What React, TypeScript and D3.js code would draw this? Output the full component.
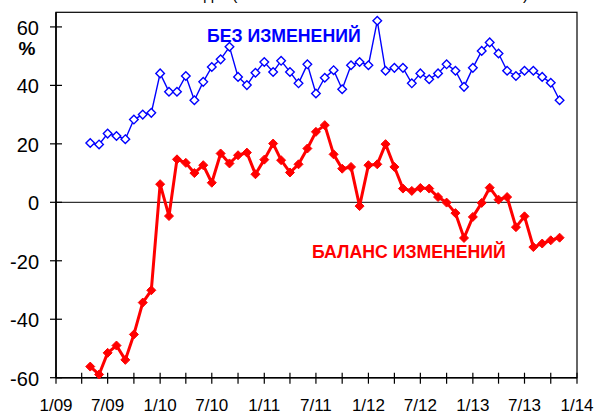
import React from 'react';
import * as d3 from 'd3';

// Monthly survey, May 2009 .. Nov 2013
const months: Date[] = d3.timeMonth.range(new Date(2009, 4, 1), new Date(2013, 11, 1));

const noChange: number[] = [
  20.3, 19.8, 23.5, 22.7, 21.6, 28.3, 30.0, 30.6, 44.1, 37.8, 37.8,
  43.2, 34.9, 41.2, 46.3, 48.9, 53.2, 42.9, 40.1, 44.3, 48.0, 44.6,
  48.4, 44.6, 40.7, 47.2, 37.2, 42.6, 45.2, 38.7, 46.9, 48.0, 46.9,
  62.1, 45.0, 46.0, 46.0, 40.7, 44.1, 42.1, 44.1, 47.2, 45.0, 39.5,
  46.0, 51.8, 54.7, 50.9, 45.0, 43.2, 45.0, 45.0, 42.9, 40.9, 34.9,
];

const balance: number[] = [
  -56.2, -58.9, -51.5, -49.0, -53.9, -45.2, -34.3, -30.1, 6.2, -4.7, 14.7,
  13.5, 10.0, 12.7, 6.7, 16.7, 13.3, 16.1, 17.0, 9.6, 14.6, 20.1,
  14.4, 10.2, 13.0, 18.4, 24.1, 26.4, 16.4, 11.5, 12.1, -1.3, 12.7,
  13.0, 19.9, 12.1, 4.7, 3.9, 4.9, 4.7, 1.8, -0.1, -3.7, -12.2,
  -5.0, -0.2, 5.0, 0.9, 1.8, -8.5, -4.8, -15.3, -14.1, -13.0, -12.1,
];

const yTicks: number[] = [-60, -40, -20, 0, 20, 40, 60];
const xDomain: Date[] = [new Date(2009, 0, 1), new Date(2014, 0, 1)];
const seriesLabels = { noChange: 'БЕЗ ИЗМЕНЕНИЙ', balance: 'БАЛАНС ИЗМЕНЕНИЙ' };
const unitLabel = '%';

const W = 595, H = 413;
const L = 56, R = 577, T = 12.3, B = 377.7;
const FONT = '"Liberation Sans", Arial, sans-serif';

export default function App() {
  const x = d3.scaleTime().domain(xDomain).range([L, R]);
  const y = d3.scaleLinear().domain([-60, 65]).range([B, T]);
  const xTicks = d3.timeMonth.every(3)!.range(xDomain[0], d3.timeDay.offset(xDomain[1], 1));

  const line = d3.line<number>().x((_, i) => x(months[i])).y(d => y(d));
  const diamond = (cx: number, cy: number, r: number) =>
    `M${cx},${cy - r}L${cx + r},${cy}L${cx},${cy + r}L${cx - r},${cy}Z`;

  const fmt = (d: Date) => `${d.getMonth() + 1}/${String(d.getFullYear() % 100).padStart(2, '0')}`;

  return (
    <svg width={W} height={H} style={{ position: 'absolute', left: 0, top: 0, background: '#fff' }}
      fontFamily={FONT}>
      {/* title fragments, clipped at the top edge as in the reference */}
      <text x={204} y={-0.5} fontSize={16}>д</text>
      <text x={232} y={-0.5} fontSize={16}>(</text>
      <text x={523} y={-0.5} fontSize={16}>)</text>

      {/* frame */}
      <rect x={L} y={T} width={R - L} height={B - T} fill="none" stroke="#000" strokeWidth={1.2} />
      <line x1={L} x2={L} y1={T} y2={B} stroke="#000" strokeWidth={1.6} />
      <line x1={L} x2={R} y1={B} y2={B} stroke="#000" strokeWidth={1.6} />
      {/* zero line */}
      <line x1={L} x2={R} y1={y(0)} y2={y(0)} stroke="#000" strokeWidth={1} />

      {/* y ticks */}
      {yTicks.map(v => (
        <g key={v}>
          <line x1={L - 6} x2={L + 6} y1={y(v)} y2={y(v)} stroke="#000" strokeWidth={1.2} />
          <text x={39} y={y(v) + 8} fontSize={20} textAnchor="end">{v}</text>
        </g>
      ))}
      <text x={27} y={55} fontSize={19} fontWeight="bold" textAnchor="middle">{unitLabel}</text>

      {/* x ticks */}
      {xTicks.map((d, i) => (
        <g key={i}>
          <line x1={x(d)} x2={x(d)} y1={B - 5} y2={B + 6} stroke="#000" strokeWidth={1.2} />
          {d.getMonth() % 6 === 0 && (
            <text x={x(d)} y={411} fontSize={17} textAnchor="middle">{fmt(d)}</text>
          )}
        </g>
      ))}

      {/* no change series */}
      <path d={line(noChange) || ''} fill="none" stroke="#0000ff" strokeWidth={1.4} />
      {noChange.map((v, i) => (
        <path key={i} d={diamond(x(months[i]), y(v), 4.3)} fill="#fff" stroke="#0000ff" strokeWidth={1.4} />
      ))}

      {/* balance series */}
      <path d={line(balance) || ''} fill="none" stroke="#ff0000" strokeWidth={3} strokeLinejoin="round" />
      {balance.map((v, i) => (
        <path key={i} d={diamond(x(months[i]), y(v), 4.5)} fill="#ff0000" stroke="#ff0000" strokeWidth={1} />
      ))}

      <text x={207} y={41.5} fontSize={17.7} fontWeight="bold" fill="#0000ff">{seriesLabels.noChange}</text>
      <text x={312} y={257.5} fontSize={17.7} fontWeight="bold" fill="#ff0000">{seriesLabels.balance}</text>
    </svg>
  );
}
